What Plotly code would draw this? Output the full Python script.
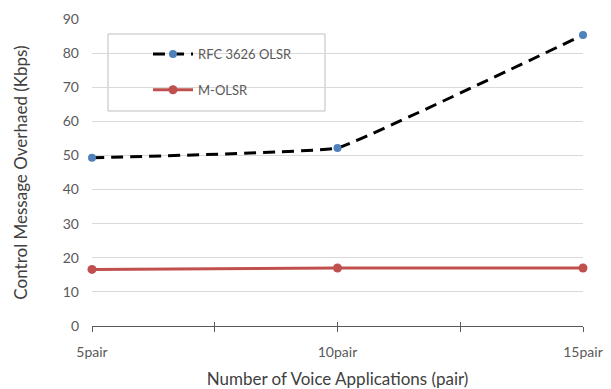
import plotly.graph_objects as go

x_vals = [5, 10, 15]
tick_vals = [5, 7.5, 10, 12.5, 15]
tick_text = ["5pair", "", "10pair", "", "15pair"]
rfc_olsr = [49.3, 52.2, 85.3]
m_olsr = [16.6, 17.0, 17.0]

FONT = "Lato, Liberation Sans, sans-serif"

fig = go.Figure()
fig.add_trace(go.Scatter(
    x=x_vals, y=rfc_olsr, name="RFC 3626 OLSR", mode="lines+markers",
    line=dict(color="black", width=3, dash="12px,7px", shape="spline", smoothing=0.2),
    marker=dict(color="#4f81bd", size=8), cliponaxis=False, legendgroup="a"))
fig.add_trace(go.Scatter(
    x=x_vals, y=m_olsr, name="M-OLSR", mode="lines+markers",
    line=dict(color="#c0504d", width=3),
    marker=dict(color="#c0504d", size=9), cliponaxis=False, legendgroup="b"))

fig.update_layout(
    width=611, height=389,
    margin=dict(l=92, r=28, t=19, b=63),
    paper_bgcolor="white", plot_bgcolor="white",
    font=dict(family=FONT, color="#595959", size=13),
    showlegend=True,
    legend=dict(x=(148-92)/491, y=0.935, xanchor="left", yanchor="top",
                bgcolor="rgba(0,0,0,0)", borderwidth=0, itemwidth=40,
                font=dict(size=13, color="#595959"), tracegroupgap=16),
    shapes=[dict(type="rect", xref="paper", yref="paper",
                 x0=(108-92)/491, x1=(325-92)/491,
                 y0=(326-111)/307, y1=(326-34)/307,
                 line=dict(color="#bfbfbf", width=1), fillcolor="white", layer="below")],
    xaxis2=dict(overlaying="x", matches="x", range=[5, 15], tickvals=tick_vals,
                showticklabels=False, ticks="inside", ticklen=4, tickcolor="#595959",
                showgrid=False, zeroline=False, showline=False, side="bottom", automargin=False),
)
fig.update_xaxes(
    selector=dict(anchor="y"),
)
fig.layout.xaxis.update(
    range=[5, 15], tickvals=tick_vals, ticktext=tick_text, automargin=False,
    showgrid=False, zeroline=False, showline=True, linecolor="#595959", linewidth=1,
    ticks="outside", ticklen=5, tickcolor="#595959",
    tickfont=dict(size=14, color="#595959"), ticklabelstandoff=8,
    title=dict(text="Number of Voice Applications (pair)", font=dict(size=17, color="#404040"), standoff=22))
fig.update_yaxes(
    range=[0, 90], dtick=10, automargin=False,
    showgrid=True, gridcolor="#d9d9d9", gridwidth=1, zeroline=False, showline=False,
    ticks="", tickfont=dict(size=14, color="#595959"), ticklabelstandoff=12,
    title=dict(text="Control Message Overhaed (Kbps)", font=dict(size=17, color="#404040"), standoff=30))
# invisible trace to activate the secondary x axis carrying the crossing ticks
fig.add_trace(go.Scatter(x=[x_vals[0]], y=[m_olsr[0]], xaxis="x2", mode="markers",
                         marker=dict(opacity=0), showlegend=False, hoverinfo="skip"))

fig.write_html("out.html")
